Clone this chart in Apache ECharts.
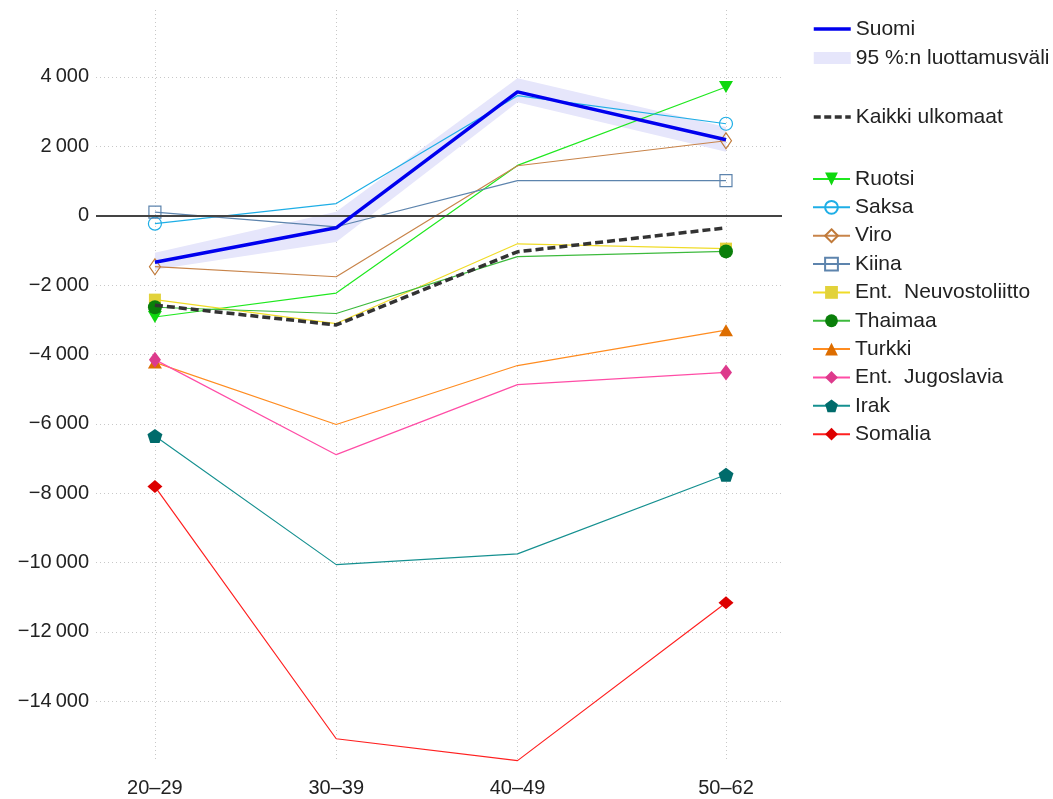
<!DOCTYPE html>
<html>
<head>
<meta charset="utf-8">
<script src="https://cdn.jsdelivr.net/npm/echarts@6/dist/echarts.min.js"></script>
<style>
html,body{margin:0;padding:0;background:#fff;}
#chart{width:1053px;height:799px;}
</style>
</head>
<body>
<div id="chart"></div>
<script>
// ---- data ----
const categories = ['20–29', '30–39', '40–49', '50–62'];
const agePositions = [24.5, 34.5, 44.5, 56];
const yTicks = [-14000, -12000, -10000, -8000, -6000, -4000, -2000, 0, 2000, 4000];

const suomi = [-1340, -350, 3570, 2190];
const suomiLower = [-1560, -760, 3270, 1840];
const suomiUpper = [-1070, 110, 3960, 2560];
const kaikkiUlkomaat = [-2580, -3150, -1040, -350];

const ruotsi = [-2920, -2230, 1450, 3710];
const saksa = [-230, 350, 3460, 2650];
const viro = [-1470, -1760, 1440, 2160];
const kiina = [100, -320, 1010, 1010];
const neuvostoliitto = [-2420, -3110, -810, -950];
const thaimaa = [-2640, -2820, -1180, -1030];
const turkki = [-4230, -6020, -4320, -3300];
const jugoslavia = [-4150, -6890, -4870, -4520];
const irak = [-6350, -10060, -9750, -7470];
const somalia = [-7810, -15080, -15710, -11160];

const pentagon = 'path://M0,-1L0.951,-0.309L0.588,0.809L-0.588,0.809L-0.951,-0.309Z';

function pts(values) {
  return agePositions.map((x, i) => {
    const item = { value: [x, values[i]] };
    if (i !== 0 && i !== agePositions.length - 1) item.symbol = 'none';
    return item;
  });
}

function country(name, values, symbol, size, lineColor, markerColor, open, rotate) {
  return {
    name: name,
    type: 'line',
    data: pts(values),
    symbol: symbol,
    symbolSize: size,
    symbolRotate: rotate || 0,
    showAllSymbol: true,
    lineStyle: { color: lineColor, width: 1.2 },
    itemStyle: open
      ? { color: 'rgba(0,0,0,0)', borderColor: markerColor, borderWidth: 1.2 }
      : { color: markerColor, borderWidth: 0 },
    emphasis: { disabled: true },
    z: 3
  };
}

const fmtY = v => {
  const s = Math.abs(v).toString().replace(/\B(?=(\d{3})+(?!\d))/g, '\u2009');
  return (v < 0 ? '\u2212' : '') + s;
};

const chart = echarts.init(document.getElementById('chart'), null, { renderer: 'canvas' });

const bandData = agePositions.map((x, i) => [x, suomiLower[i], suomiUpper[i]]);

const legendBase = {
  orient: 'vertical',
  left: 812,
  itemWidth: 37,
  itemHeight: 16,
  padding: 0,
  selectedMode: false,
  textStyle: { fontSize: 21, color: '#222', lineHeight: 22, fontFamily: 'Liberation Sans' }
};

const hiddenSymbol = { color: 'rgba(0,0,0,0)', borderWidth: 0, opacity: 0 };

const option = {
  animation: false,
  backgroundColor: '#ffffff',
  textStyle: { fontFamily: 'Liberation Sans' },
  grid: { left: 96, right: 271, top: 10, bottom: 37 },
  legend: [
    Object.assign({}, legendBase, {
      top: 18, itemGap: 7, itemHeight: 12,
      data: [
        { name: 'Suomi', itemStyle: hiddenSymbol, lineStyle: { color: '#0000ee', width: 3.5, type: 'solid' } },
        { name: '95 %:n luottamusväli', icon: 'rect', itemStyle: { color: '#e6e6fb', borderWidth: 0 } }
      ]
    }),
    Object.assign({}, legendBase, {
      top: 106, itemGap: 6,
      data: [{ name: 'Kaikki ulkomaat', itemStyle: hiddenSymbol, lineStyle: { color: '#333', width: 3.5, type: [7, 3.5] } }]
    }),
    Object.assign({}, legendBase, {
      top: 168, itemGap: 6.35,
      data: ['Ruotsi', 'Saksa', 'Viro', 'Kiina', 'Ent.  Neuvostoliitto', 'Thaimaa', 'Turkki', 'Ent.  Jugoslavia', 'Irak', 'Somalia']
    })
  ],
  xAxis: {
    type: 'value',
    min: 21.25,
    max: 59.09,
    axisLine: { show: false },
    axisTick: { show: false, customValues: agePositions },
    axisLabel: {
      customValues: agePositions,
      formatter: v => {
        let best = 0;
        agePositions.forEach((p, i) => { if (Math.abs(p - v) < Math.abs(agePositions[best] - v)) best = i; });
        return categories[best];
      },
      fontSize: 20, color: '#222', margin: 16
    },
    splitLine: { show: true, lineStyle: { color: '#c8c8c8', type: [1, 3], width: 1 } }
  },
  yAxis: {
    type: 'value',
    min: -15750,
    max: 5930,
    axisLine: { show: false },
    axisTick: { show: false, customValues: yTicks },
    axisLabel: { customValues: yTicks, formatter: fmtY, fontSize: 20, color: '#222', margin: 7 },
    splitLine: { show: true, lineStyle: { color: '#c8c8c8', type: [1, 3], width: 1 } }
  },
  series: [
    {
      name: '95 %:n luottamusväli',
      type: 'custom',
      data: bandData,
      encode: { x: 0, y: [1, 2] },
      itemStyle: { color: '#e6e6fb' },
      z: 1,
      renderItem: (params, api) => {
        if (params.dataIndex !== 0) return null;
        const upper = bandData.map(d => api.coord([d[0], d[2]]));
        const lower = bandData.map(d => api.coord([d[0], d[1]])).reverse();
        return {
          type: 'polygon',
          shape: { points: upper.concat(lower) },
          style: { fill: '#e6e6fb' }
        };
      },
      markLine: {
        silent: true,
        symbol: 'none',
        label: { show: false },
        lineStyle: { color: '#444', width: 2.2, type: 'solid' },
        data: [{ yAxis: 0 }]
      }
    },
    country('Ruotsi', ruotsi, 'triangle', [14, 12], '#1fe81f', '#0fd80f', false, 180),
    country('Saksa', saksa, 'circle', 13, '#1eaee6', '#1eaee6', true),
    country('Viro', viro, 'diamond', [11, 16], '#c8844a', '#c07a3a', true),
    country('Kiina', kiina, 'rect', 12, '#5d84ad', '#5d84ad', true),
    country('Ent.  Neuvostoliitto', neuvostoliitto, 'rect', 12, '#f0dc28', '#e2d23a', false),
    country('Thaimaa', thaimaa, 'circle', 14, '#3dba3d', '#0a7f0a', false),
    country('Turkki', turkki, 'triangle', [14, 12], '#ff8c20', '#dd6d00', false),
    country('Ent.  Jugoslavia', jugoslavia, 'diamond', [12, 16], '#ff4da6', '#dd3a8c', false),
    country('Irak', irak, pentagon, [15, 14], '#159090', '#006b6b', false),
    country('Somalia', somalia, 'diamond', [15, 13], '#ff2020', '#dd0000', false),
    {
      name: 'Kaikki ulkomaat',
      type: 'line',
      data: agePositions.map((x, i) => [x, kaikkiUlkomaat[i]]),
      symbol: 'none',
      lineStyle: { color: '#333', width: 3.5, type: [8, 4] },
      itemStyle: { color: '#333' },
      emphasis: { disabled: true },
      z: 4
    },
    {
      name: 'Suomi',
      type: 'line',
      data: agePositions.map((x, i) => [x, suomi[i]]),
      symbol: 'none',
      lineStyle: { color: '#0000ee', width: 3.5 },
      itemStyle: { color: '#0000ee' },
      emphasis: { disabled: true },
      z: 5
    }
  ]
};

chart.setOption(option);
</script>
</body>
</html>
